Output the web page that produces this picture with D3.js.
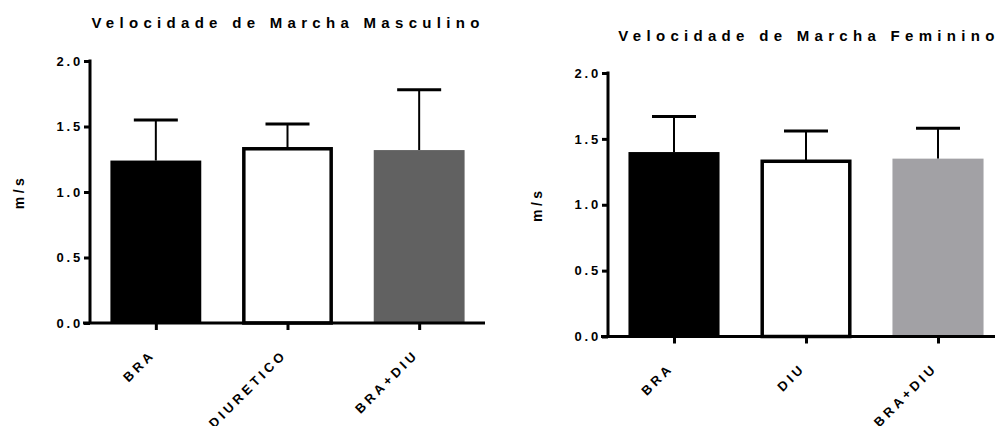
<!DOCTYPE html>
<html lang="pt">
  <head>
    <meta charset="UTF-8" />
    <title>Velocidade de Marcha</title>
    <style>
      body { margin: 0; background: #fff; }
      text { font-family: "Liberation Sans", Arial, sans-serif; font-weight: 700; fill: #000; }
      .title { font-size: 15px; letter-spacing: 5.3px; }
      .tick-label { font-size: 13px; letter-spacing: 2.8px; }
      .ylabel { font-size: 14px; letter-spacing: 3.5px; }
      .cat { font-size: 13px; letter-spacing: 3.6px; }
    </style>
  </head>
  <body>
    <div id="app"></div>
    <script src="https://cdn.jsdelivr.net/npm/d3@7/dist/d3.min.js"></script>
    <script>
      // dados
      const catsMasc = ["BRA", "DIURETICO", "BRA+DIU"];
      const meanMasc = [1.24, 1.33, 1.32];
      const errMasc = [0.31, 0.19, 0.46];

      const catsFem = ["BRA", "DIU", "BRA+DIU"];
      const meanFem = [1.40, 1.33, 1.35];
      const errFem = [0.27, 0.23, 0.23];

      const yTicks = [0, 0.5, 1.0, 1.5, 2.0];
      const width = 995, height = 426;

      const svg = d3.select("#app").append("svg")
        .attr("width", width)
        .attr("height", height);

      function drawPanel(opt) {
        const g = svg.append("g");
        const y = d3.scaleLinear().domain([0, 2]).range([opt.y0, opt.y1]);
        const x = d3.scalePoint().domain(opt.cats).range([opt.x0, opt.x1]).padding(0.5);
        const step = x.step();
        const bw = step * 0.69;

        // barras
        opt.cats.forEach(function(c, i) {
          const cx = x(c);
          const top = y(opt.means[i]);
          const errTop = y(opt.means[i] + opt.errs[i]);
          // linha do erro
          g.append("line")
            .attr("x1", cx).attr("x2", cx)
            .attr("y1", top).attr("y2", errTop)
            .attr("stroke", "#000").attr("stroke-width", 2);
          g.append("line")
            .attr("x1", cx - 22).attr("x2", cx + 22)
            .attr("y1", errTop).attr("y2", errTop)
            .attr("stroke", "#000").attr("stroke-width", 3);
          if (opt.colors[i] === "white") {
            g.append("rect")
              .attr("x", cx - bw / 2 + 1.75)
              .attr("y", top)
              .attr("width", bw - 3.5)
              .attr("height", y(0) - top)
              .attr("fill", "#fff")
              .attr("stroke", "#000")
              .attr("stroke-width", 3.5);
          } else {
            g.append("rect")
              .attr("x", cx - bw / 2)
              .attr("y", top)
              .attr("width", bw)
              .attr("height", y(0) - top)
              .attr("fill", opt.colors[i]);
          }
        });

        // eixo y
        const yAxis = d3.axisLeft(y).tickValues(yTicks).tickFormat(d3.format(".1f"))
          .tickSize(6).tickPadding(1);
        const ya = g.append("g")
          .attr("transform", `translate(${opt.x0},0)`)
          .call(yAxis);
        ya.select(".domain").remove();
        ya.selectAll(".tick line").attr("stroke", "#000").attr("stroke-width", 3);
        ya.selectAll(".tick text").attr("class", "tick-label").attr("font-size", null).attr("font-family", null);
        g.append("line")
          .attr("x1", opt.x0).attr("x2", opt.x0)
          .attr("y1", opt.y1 - 1.5).attr("y2", opt.y0)
          .attr("stroke", "#000").attr("stroke-width", 3);

        // eixo x
        g.append("line")
          .attr("x1", opt.x0 - 7).attr("x2", opt.x1)
          .attr("y1", opt.y0).attr("y2", opt.y0)
          .attr("stroke", "#000").attr("stroke-width", 3);
        const xAxis = d3.axisBottom(x).tickSize(7).tickFormat("");
        const xa = g.append("g")
          .attr("transform", `translate(0,${opt.y0})`)
          .call(xAxis);
        xa.select(".domain").remove();
        xa.selectAll(".tick line").attr("stroke", "#000").attr("stroke-width", 3);

        g.selectAll(".cat")
          .data(opt.cats)
          .enter()
          .append("text")
          .attr("class", "cat")
          .attr("text-anchor", "end")
          .attr("transform", function(d) {
            return `translate(${x(d) - 3},${opt.y0 + 29}) rotate(-45)`;
          })
          .attr("dy", "0.35em")
          .text(function(d) { return d; });

        // titulo
        g.append("text")
          .attr("class", "title")
          .attr("text-anchor", "middle")
          .attr("x", opt.titleX)
          .attr("y", opt.titleY)
          .text(opt.title);

        g.append("text")
          .attr("class", "ylabel")
          .attr("text-anchor", "middle")
          .attr("transform", `translate(${opt.ylabelX},${(opt.y0 + opt.y1) / 2}) rotate(-90)`)
          .text("m/s");
      }

      drawPanel({
        cats: catsMasc, means: meanMasc, errs: errMasc,
        colors: ["#000", "white", "#616161"],
        x0: 90, x1: 485, y0: 323, y1: 61,
        title: "Velocidade de Marcha Masculino", titleX: 288, titleY: 28,
        ylabelX: 24
      });

      drawPanel({
        cats: catsFem, means: meanFem, errs: errFem,
        colors: ["#000", "white", "#a2a1a5"],
        x0: 608, x1: 1004, y0: 336.5, y1: 73,
        title: "Velocidade de Marcha Feminino", titleX: 809, titleY: 41,
        ylabelX: 542
      });
    </script>
  </body>
</html>
